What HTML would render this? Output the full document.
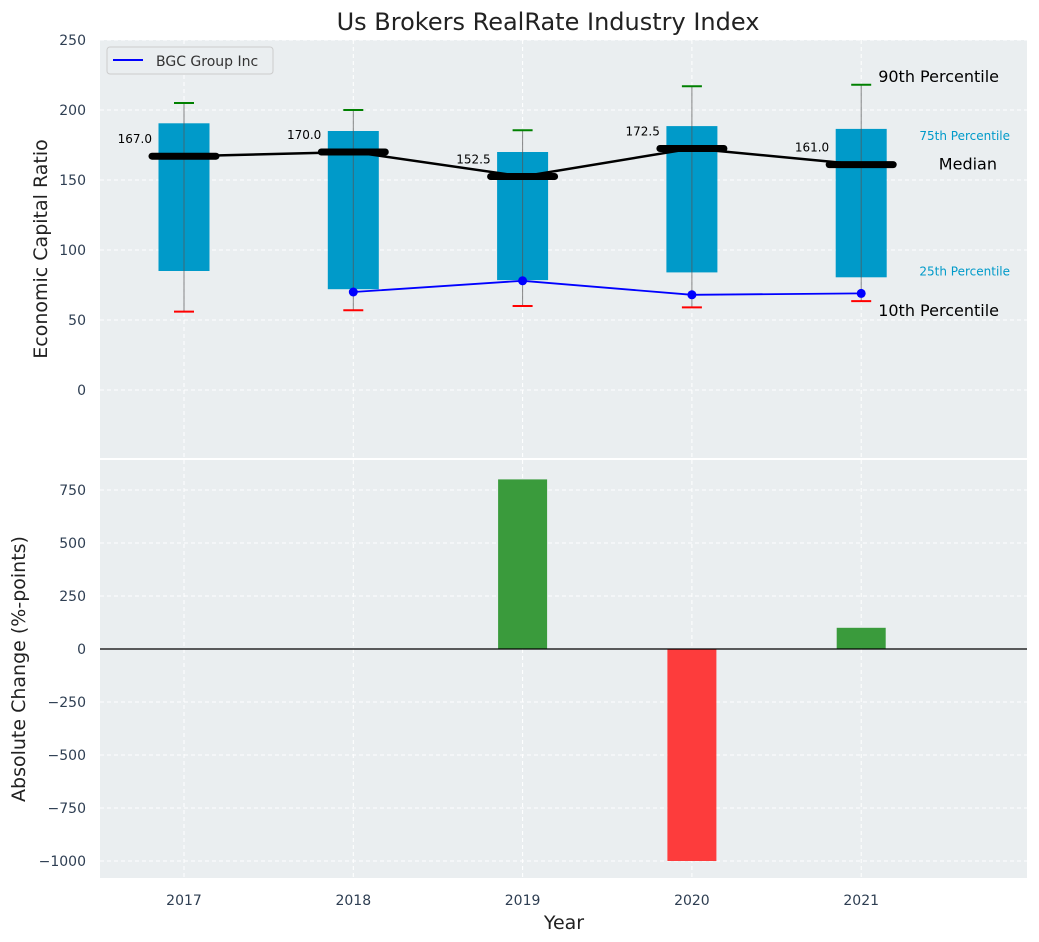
<!DOCTYPE html>
<html><head><meta charset="utf-8"><style>
html,body{margin:0;padding:0;background:#fff;width:1039px;height:942px;overflow:hidden}
text{font-family:"DejaVu Sans","Liberation Sans",sans-serif}
</style></head><body>
<svg id="chart" width="1039" height="942" xmlns="http://www.w3.org/2000/svg">
<text x="548" y="30" text-anchor="middle" font-size="24" fill="#222">Us Brokers RealRate Industry Index</text>
<rect x="100" y="40" width="927" height="418" fill="#eaeef0"/>
<rect x="100" y="460" width="927" height="418" fill="#eaeef0"/>
<g id="topg"></g><g id="botg"></g>
<text transform="translate(47,249) rotate(-90)" text-anchor="middle" font-size="19" fill="#222">Economic Capital Ratio</text>
<text transform="translate(25,669) rotate(-90)" text-anchor="middle" font-size="19" fill="#222">Absolute Change (%-points)</text>
<text x="564" y="929" text-anchor="middle" font-size="19" fill="#222">Year</text>
<g>
<rect x="107" y="47" width="166" height="27" rx="3" fill="#eaeef0" stroke="#ccc"/>
<line x1="113" y1="60" x2="143" y2="60" stroke="#00f" stroke-width="2"/>
<text x="156" y="66" font-size="14" fill="#333">BGC Group Inc</text>
</g>
</svg>
<script>
const years=[2017,2018,2019,2020,2021];
const p10=[56,57,60,59,63.5];
const p25=[85,72,78.5,84,80.5];
const median=[167,170,152.5,172.5,161];
const p75=[190.5,185,170,188.5,186.5];
const p90=[205,200,185.5,217,218];
const bgcYears=[2018,2019,2020,2021];
const bgc=[70,78,68,69];
const changes=[0,0,800,-1000,100];
const topTicks=[0,50,100,150,200,250];
const botTicks=[-1000,-750,-500,-250,0,250,500,750];
const NS="http://www.w3.org/2000/svg";
const xs=y=>184+(y-2017)*169.3;
const yt=v=>390-v*1.4;
const yb=v=>649-v*0.212;
function el(p,t,a){const e=document.createElementNS(NS,t);for(const k in a)e.setAttribute(k,a[k]);p.appendChild(e);return e;}
const topG=document.getElementById('topg'),botG=document.getElementById('botg');
years.forEach(y=>{
 let g=el(topG,'line',{x1:xs(y),x2:xs(y),y1:40,y2:458,stroke:'#fff','stroke-dasharray':'4,3'});
 
 
 g=el(botG,'line',{x1:xs(y),x2:xs(y),y1:460,y2:878,stroke:'#fff','stroke-dasharray':'4,3'});
 
 
 const t=el(botG,'text',{x:xs(y),y:905,'text-anchor':'middle','font-size':14,fill:'#2e3e52'});t.textContent=y;
 
 
});
topTicks.forEach(v=>{
 const g=el(topG,'line',{x1:100,x2:1027,y1:yt(v),y2:yt(v),stroke:'#fff','stroke-dasharray':'4,3'});
 
 
 const t=el(topG,'text',{x:86,y:yt(v)+5,'text-anchor':'end','font-size':14,fill:'#2e3e52'});t.textContent=v;
 
 
});
botTicks.forEach(v=>{
 const g=el(botG,'line',{x1:100,x2:1027,y1:yb(v),y2:yb(v),stroke:'#fff','stroke-dasharray':'4,3'});
 
 
 const t=el(botG,'text',{x:86,y:yb(v)+5,'text-anchor':'end','font-size':14,fill:'#2e3e52'});t.textContent=v<0?'\u2212'+(-v):v;
 
 
});
years.forEach((y,i)=>{
 const x=xs(y);
 const b=el(topG,'rect',{x:x-25.5,y:yt(p75[i]),width:51,height:yt(p25[i])-yt(p75[i]),fill:'#009ac9'});
 
 
 const w=el(topG,'line',{x1:x,x2:x,y1:yt(p90[i]),y2:yt(p10[i]),stroke:'#555','stroke-width':1,opacity:0.7});
 
 
 const h=el(topG,'line',{x1:x-10,x2:x+10,y1:yt(p90[i]),y2:yt(p90[i]),stroke:'green','stroke-width':2});
 
 
 const l=el(topG,'line',{x1:x-10,x2:x+10,y1:yt(p10[i]),y2:yt(p10[i]),stroke:'red','stroke-width':2});
 
 
});
const ml=el(topG,'polyline',{points:years.map((y,i)=>xs(y)+','+yt(median[i])).join(' '),fill:'none',stroke:'#000','stroke-width':2.5});


years.forEach((y,i)=>{
 const x=xs(y);
 const m=el(topG,'line',{x1:x-32,x2:x+32,y1:yt(median[i]),y2:yt(median[i]),stroke:'#000','stroke-width':7,'stroke-linecap':'round'});
 
 
 const t=el(topG,'text',{x:x-32,y:yt(median[i])-13,'text-anchor':'end','font-size':12,fill:'#000'});t.textContent=median[i].toFixed(1);
 
 
});
const bl=el(topG,'polyline',{points:bgcYears.map((y,i)=>xs(y)+','+yt(bgc[i])).join(' '),fill:'none',stroke:'#00f','stroke-width':1.8});


bgcYears.forEach((y,i)=>{
 const c=el(topG,'circle',{cx:xs(y),cy:yt(bgc[i]),r:4.5,fill:'#00f'});
 
 
});
const last=years.length-1,lx=xs(years[last]);
[[p90[last],'90th Percentile',16,'#000',lx+17,-3,'start'],[p75[last],'75th Percentile',12,'#009ac9',1010,11,'end'],[median[last],'Median',16,'#000',997,5,'end'],[p25[last],'25th Percentile',12,'#009ac9',1010,-2,'end'],[p10[last],'10th Percentile',16,'#000',lx+17,15,'start']].forEach(a=>{
 const t=el(topG,'text',{x:a[4],y:yt(a[0])+a[5],'text-anchor':a[6],'font-size':a[2],fill:a[3]});t.textContent=a[1];
 
 
});
years.forEach((y,i)=>{
 if(!changes[i])return;
 const v=changes[i];
 const r=el(botG,'rect',{x:xs(y)-24.5,y:Math.min(yb(v),yb(0)),width:49,height:Math.abs(yb(v)-yb(0)),fill:v>0?'#3a9b3c':'#fd3c3c'});
 
 
});
const z=el(botG,'line',{x1:100,x2:1027,y1:yb(0),y2:yb(0),stroke:'#000','stroke-width':1.2});


</script>
</body></html>
